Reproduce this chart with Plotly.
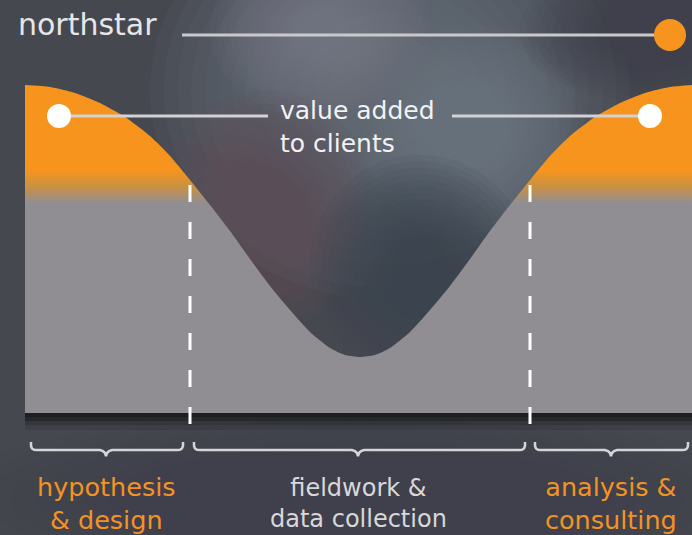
import plotly.graph_objects as go

# ---------------- data ----------------
curve_x = [25, 50, 75, 100, 125, 150, 170, 190, 210, 230, 250, 270, 290, 310, 330, 345, 360,
           375, 390, 410, 430, 450, 470, 490, 510, 530, 550, 570, 595, 620, 645, 670, 692]
curve_y = [85, 87, 93, 103, 117, 136, 156, 180, 205, 231, 259, 286, 310, 332, 348, 355, 357,
           355, 348, 332, 310, 286, 259, 231, 205, 180, 156, 136, 117, 103, 93, 87, 85]
base_y = 413
boundaries = [190, 530]
phase_labels = ["hypothesis<br>& design", "fieldwork &<br>data collection", "analysis &<br>consulting"]
phase_start = [31, 194, 535]
phase_end = [183, 525, 688]
phase_mid = [106, 358, 611]
phase_colors = ["#F39323", "#D8D8DA", "#F39323"]
phase_sizes = [25.5, 24, 25.5]

ORANGE = "#F7941D"
GRAY = "#918E93"
BG = "#464850"

fig = go.Figure()

# ---------------- soft background (blurred photo feel) ----------------
shapes = []
def blob(cx, cy, rx, ry, color, n=14, op=0.08):
    for i in range(n):
        s = 1.0 - i * (0.8 / n)
        shapes.append(dict(type="circle", layer="below", xref="x", yref="y",
                           x0=cx - rx * s, x1=cx + rx * s, y0=cy - ry * s, y1=cy + ry * s,
                           fillcolor=color, opacity=op, line=dict(width=0)))

blob(390, 90, 240, 210, "#6e7280", op=0.1)
blob(320, 30, 110, 90, "#80838d", op=0.07)
blob(475, 135, 110, 110, "#737889", op=0.09)
blob(265, 210, 110, 120, "#5e5255", op=0.1)
blob(420, 265, 110, 110, "#3c434b", op=0.1)
blob(640, 30, 120, 70, "#44454d", op=0.08)
blob(360, 500, 420, 90, "#3d424a", op=0.08)

# shadow under the block
shadow = [(413, 417, "rgba(28,30,34,1)"), (417, 421, "rgba(30,32,36,0.8)"),
          (421, 425, "rgba(34,36,40,0.5)"), (425, 430, "rgba(38,40,44,0.25)")]
for y0, y1, c in shadow:
    shapes.append(dict(type="rect", layer="below", x0=25, x1=692, y0=y0, y1=y1,
                       fillcolor=c, line=dict(width=0)))

# ---------------- main area ----------------
fig.add_trace(go.Scatter(x=[curve_x[0], curve_x[-1]], y=[base_y, base_y], mode="lines",
                         line=dict(width=0), hoverinfo="skip"))
fig.add_trace(go.Scatter(
    x=curve_x, y=curve_y, mode="lines", line=dict(width=0, shape="spline", smoothing=0.6),
    fill="tonexty",
    fillgradient=dict(type="vertical", start=85, stop=413,
                      colorscale=[[0, ORANGE], [0.26, ORANGE], [0.31, "#C99142"],
                                  [0.36, GRAY], [1, GRAY]]),
    hoverinfo="skip"))

# dashed phase boundaries
for b in boundaries:
    fig.add_trace(go.Scatter(x=[b, b], y=[185, 425], mode="lines",
                             line=dict(color="white", width=3, dash="17px,20px"),
                             hoverinfo="skip"))

# northstar line + dot
fig.add_trace(go.Scatter(x=[182, 665], y=[35, 35], mode="lines",
                         line=dict(color="#C9C9CD", width=3), hoverinfo="skip"))
fig.add_trace(go.Scatter(x=[670], y=[35], mode="markers",
                         marker=dict(color=ORANGE, size=32, line=dict(width=0)), hoverinfo="skip"))

# value added lines + dots
fig.add_trace(go.Scatter(x=[59, 268], y=[116, 116], mode="lines",
                         line=dict(color="#D2D2D6", width=3), hoverinfo="skip"))
fig.add_trace(go.Scatter(x=[452, 650], y=[116, 116], mode="lines",
                         line=dict(color="#D2D2D6", width=3), hoverinfo="skip"))
fig.add_trace(go.Scatter(x=[59, 650], y=[116, 116], mode="markers",
                         marker=dict(color="white", size=24, line=dict(width=0)), hoverinfo="skip"))

# braces
for a, b, c in zip(phase_start, phase_end, phase_mid):
    bx = [a, a, a + 1, a + 3, a + 6, c - 6, c - 3, c - 1, c, c + 1, c + 3, c + 6,
          b - 6, b - 3, b - 1, b, b]
    by = [442, 446, 448.5, 449.7, 450, 450, 451, 453, 456, 453, 451, 450,
          450, 449.7, 448.5, 446, 442]
    fig.add_trace(go.Scatter(x=bx, y=by, mode="lines",
                             line=dict(color="#D5D5D8", width=2.5), hoverinfo="skip"))

# ---------------- text ----------------
ann = []
ann.append(dict(x=16, y=24, text="northstar", showarrow=False, xanchor="left", yanchor="middle",
                font=dict(family="DejaVu Sans", size=30, color="#E6E6E8")))
ann.append(dict(x=278, y=127, text="value added<br>to clients", showarrow=False, align="left",
                xanchor="left", yanchor="middle",
                font=dict(family="DejaVu Sans", size=25, color="#F2F2F4")))
for lab, m, col, sz in zip(phase_labels, phase_mid, phase_colors, phase_sizes):
    ann.append(dict(x=m, y=503, text=lab, showarrow=False, align="center",
                    xanchor="center", yanchor="middle",
                    font=dict(family="DejaVu Sans", size=sz, color=col)))

fig.update_layout(
    width=692, height=535, margin=dict(l=0, r=0, t=0, b=0),
    paper_bgcolor=BG, plot_bgcolor=BG, showlegend=False,
    xaxis=dict(range=[0, 692], visible=False, fixedrange=True),
    yaxis=dict(range=[535, 0], visible=False, fixedrange=True),
    shapes=shapes, annotations=ann,
)
fig.write_html("out.html", config={"displayModeBar": False})
